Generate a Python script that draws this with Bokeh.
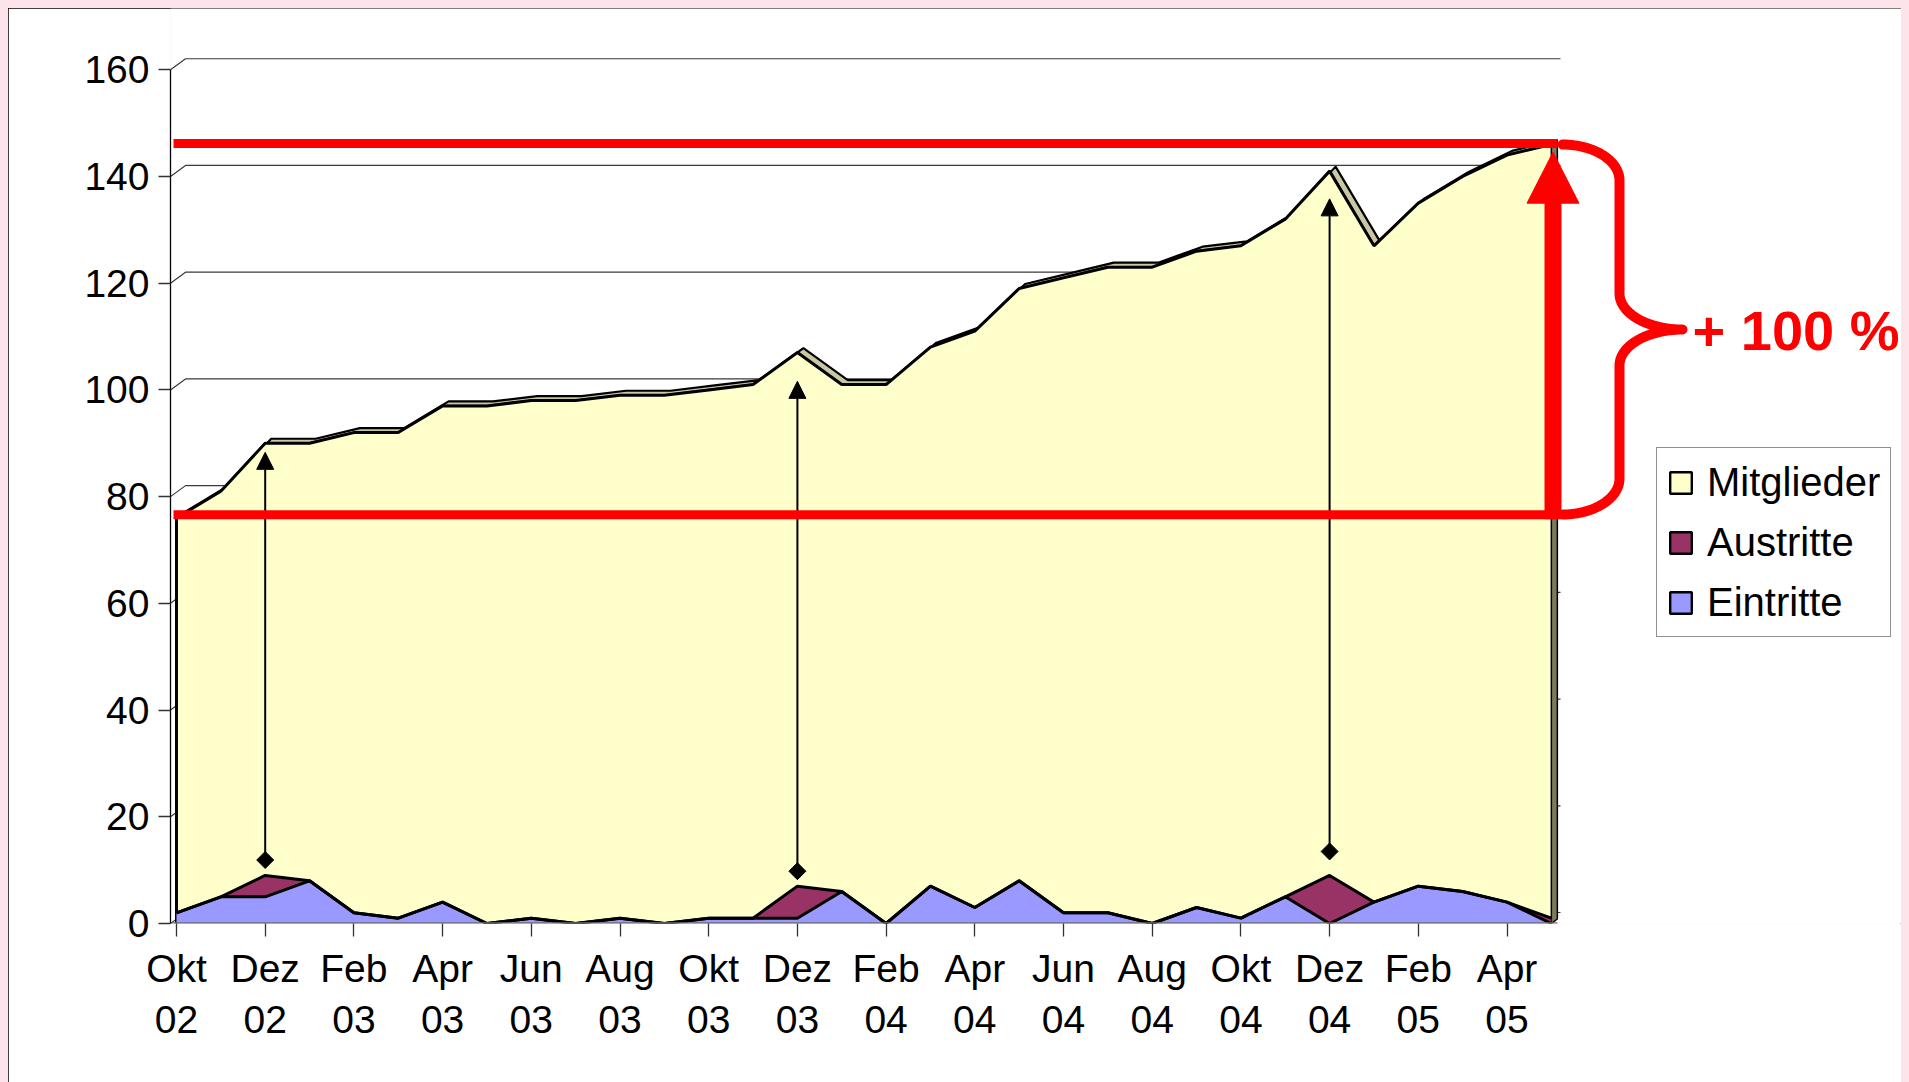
import numpy as np
from bokeh.plotting import figure
from bokeh.models import FixedTicker, Range1d, Legend, LegendItem
from bokeh.core.properties import value
from bokeh.embed import file_html
from bokeh.resources import INLINE

# ---------------- data ----------------
months = ["Okt 02", "Nov 02", "Dez 02", "Jan 03", "Feb 03", "Mrz 03", "Apr 03", "Mai 03",
          "Jun 03", "Jul 03", "Aug 03", "Sep 03", "Okt 03", "Nov 03", "Dez 03", "Jan 04",
          "Feb 04", "Mrz 04", "Apr 04", "Mai 04", "Jun 04", "Jul 04", "Aug 04", "Sep 04",
          "Okt 04", "Nov 04", "Dez 04", "Jan 05", "Feb 05", "Mrz 05", "Apr 05", "Mai 05"]
tick_months = months[::2]
tick_labels = [m.replace(" ", "\n") for m in tick_months]

mitglieder = [76, 81, 90, 90, 92, 92, 97, 97, 98, 98, 99, 99, 100, 101, 107, 101,
              101, 108, 111, 119, 121, 123, 123, 126, 127, 132, 141, 127, 135, 140, 144, 146]
austritte = [0, 0, 4, 0, 0, 0, 0, 0, 0, 0, 0, 0, 0, 0, 6, 0,
             0, 0, 0, 0, 0, 0, 0, 0, 0, 0, 9, 0, 0, 0, 0, 1]
eintritte = [2, 5, 5, 8, 2, 1, 4, 0, 1, 0, 1, 0, 1, 1, 1, 6,
             0, 7, 3, 8, 2, 2, 0, 3, 1, 5, 0, 4, 7, 6, 4, 0]
y_ticks = [0, 20, 40, 60, 80, 100, 120, 140, 160]
series_names = ["Mitglieder", "Austritte", "Eintritte"]

# annotations
arrow_months = [2, 14, 26]
arrow_base = [11.9, 9.8, 13.5]
arrow_tip = [88.3, 101.6, 135.8]
start_level = 76.6
end_level = 146.2
growth_label = "+ 100 %"

# ---------------- colours ----------------
YELLOW = "#ffffcc"
TAN = "#c9c7a6"
SIDE = "#7d7b5e"
PURPLE = "#993366"
BLUE = "#9999ff"
RED = "#ff0000"
FONT = "Liberation Sans"

# ---------------- geometry ----------------
W, H = 1893, 1074
PX_M = 44.35      # px per month
PX_U = 5.336      # px per unit
B_LEFT, B_BOTTOM = 162, 159
GAP = 6           # px between y-axis and first category
frame_w = W - B_LEFT
frame_h = H - B_BOTTOM
x0 = -GAP / PX_M
xr = Range1d(x0, x0 + frame_w / PX_M)
yr = Range1d(0, frame_h / PX_U)


def dxp(px):
    return px / PX_M


def dyp(px):
    return px / PX_U


def pg(X, Y):
    """page pixel -> data"""
    return (X - (8 + B_LEFT + GAP)) / PX_M, ((8 + frame_h) - Y) / PX_U


x = np.arange(len(months), dtype=float)
m = np.array(mitglieder, dtype=float)
e = np.array(eintritte, dtype=float)
a = np.array(austritte, dtype=float)
n = len(months) - 1

p = figure(width=W, height=H, x_range=xr, y_range=yr, output_backend="svg",
           toolbar_location=None, min_border_left=B_LEFT, min_border_right=0,
           min_border_top=0, min_border_bottom=B_BOTTOM,
           background_fill_color="white", border_fill_color="white",
           outline_line_color=None)
p.grid.visible = False
p.styles = {"outline": "1.5px solid #000", "outline-offset": "-1.5px"}

# axes
p.xaxis.ticker = FixedTicker(ticks=list(range(0, len(months), 2)))
p.xaxis.major_label_overrides = {i * 2: lab for i, lab in enumerate(tick_labels)}
p.xaxis.axis_line_color = None
p.xaxis.major_tick_out = 13
p.xaxis.major_tick_in = 0
p.xaxis.major_tick_line_color = "#333333"
p.xaxis.major_tick_line_width = 1.3
p.xaxis.minor_tick_line_color = None
p.xaxis.major_label_text_font = FONT
p.xaxis.major_label_text_font_size = "39px"
p.xaxis.major_label_text_color = "black"
p.xaxis.major_label_standoff = 10

p.yaxis.ticker = FixedTicker(ticks=y_ticks)
p.yaxis.bounds = (0, 160)
p.yaxis.axis_line_color = "black"
p.yaxis.axis_line_width = 1.3
p.yaxis.major_tick_out = 12
p.yaxis.major_tick_in = 0
p.yaxis.major_tick_line_color = "#333333"
p.yaxis.major_tick_line_width = 1.3
p.yaxis.minor_tick_line_color = None
p.yaxis.major_label_text_font = FONT
p.yaxis.major_label_text_font_size = "39px"
p.yaxis.major_label_text_color = "black"
p.yaxis.major_label_standoff = 9

# back wall gridlines (3D look)
bx, by = dxp(15), dyp(11)
x_wall = dxp(1560 - (8 + B_LEFT + GAP))
p.multi_line(xs=[[x0, x0 + bx, x_wall] for _ in y_ticks],
             ys=[[v, v + by, v + by] for v in y_ticks],
             line_color="#3a3a3a", line_width=1.2)

# Mitglieder ribbon: top face strip, front face, side face
ddx, ddy = dxp(6), dyp(4.5)
p.patch(list(x + ddx) + list(x[::-1]), list(m + ddy) + list(m[::-1]),
        fill_color=TAN, line_color="black", line_width=2.2)
p.varea(x=x, y1=np.zeros_like(m), y2=m, fill_color=YELLOW)
p.line(x, m, line_color="black", line_width=3)
p.segment(x0=[0], y0=[0], x1=[0], y1=[m[0]], line_color="black", line_width=3)
p.patch([n, n, n + ddx, n + ddx], [0, m[n], m[n] + ddy, ddy],
        fill_color=SIDE, line_color="black", line_width=1.5)

# Eintritte + Austritte (stacked)
p.varea(x=x, y1=np.zeros_like(e), y2=e, fill_color=BLUE)
p.varea(x=x, y1=e, y2=e + a, fill_color=PURPLE)
p.line(x, e, line_color="black", line_width=3)
p.line(x, e + a, line_color="black", line_width=3)

# floor / x axis line
p.segment(x0=[x0], y0=[0], x1=[n + ddx], y1=[0], line_color="#6e6e6e", line_width=2.5)

# black arrows
hw, hl = dxp(8.5), dyp(17)
am = np.array(arrow_months, dtype=float)
at = np.array(arrow_tip)
p.segment(x0=am, y0=arrow_base, x1=am, y1=at - hl, line_color="black", line_width=2)
p.patches(xs=[[xi - hw, xi + hw, xi] for xi in am],
          ys=[[t - hl, t - hl, t] for t in at],
          fill_color="black", line_color="black", line_width=1)
p.scatter(am, arrow_base, marker="square", angle=np.pi / 4, size=12,
          fill_color="black", line_color="black")

# red level lines
rx0, _ = pg(173, 0)
rx1, _ = pg(1557, 0)
p.segment(x0=[rx0, rx0], y0=[start_level, end_level], x1=[rx1, rx1],
          y1=[start_level, end_level], line_color=RED, line_width=9)

# red growth arrow
ax_, _ = pg(1552.5, 0)
_, tip_y = pg(0, 151.7)
head_len, head_hw = dyp(51), dxp(26)
p.segment(x0=[ax_], y0=[start_level - dyp(4.5)], x1=[ax_], y1=[tip_y - head_len + dyp(1)],
          line_color=RED, line_width=17)
p.patch([ax_ - head_hw, ax_ + head_hw, ax_], [tip_y - head_len, tip_y - head_len, tip_y],
        fill_color=RED, line_color=RED, line_width=1)

# red brace
t = np.linspace(0, np.pi / 2, 30)
X1, Y1 = 1562 + 57 * np.sin(t), 180 - 36 * np.cos(t)
X2, Y2 = 1682 - 63 * np.cos(t), 293 + 36 * np.sin(t)
X3, Y3 = 1682 - 63 * np.sin(t), 365 - 36 * np.cos(t)
X4, Y4 = 1562 + 57 * np.cos(t), 478 + 36 * np.sin(t)
BX = np.concatenate([X1, X2, X3, X4])
BY = np.concatenate([Y1, Y2, Y3, Y4])
bxd, byd = pg(BX, BY)
p.line(bxd, byd, line_color=RED, line_width=10, line_cap="round", line_join="round")

tx, ty = pg(1692, 330)
p.text(x=[tx], y=[ty], text=[growth_label], text_font=value(FONT), text_font_style="bold",
       text_font_size="56px", text_color=RED, text_align="left", text_baseline="middle")

# legend (proxy renderers placed outside the visible range)
off = [x0 - 50]
r_m = p.quad(left=off, right=off, top=[1], bottom=[0], fill_color=YELLOW, line_color="black", line_width=2.4)
r_a = p.quad(left=off, right=off, top=[1], bottom=[0], fill_color=PURPLE, line_color="black", line_width=2.4)
r_e = p.quad(left=off, right=off, top=[1], bottom=[0], fill_color=BLUE, line_color="black", line_width=2.4)
legend = Legend(items=[LegendItem(label=series_names[0], renderers=[r_m]),
                       LegendItem(label=series_names[1], renderers=[r_a]),
                       LegendItem(label=series_names[2], renderers=[r_e])],
                location=(1486, 286))
legend.label_text_font = FONT
legend.label_text_font_size = "40px"
legend.label_text_color = "black"
legend.label_height = 48
legend.glyph_width = 27
legend.glyph_height = 27
legend.spacing = 12
legend.padding = 10
legend.margin = 0
legend.label_standoff = 13
legend.border_line_color = "#222222"
legend.border_line_width = 1.5
legend.background_fill_color = "white"
legend.background_fill_alpha = 1.0
p.add_layout(legend)

html = file_html(p, INLINE, title="Mitglieder")
html = html.replace("</head>",
                    "<style>html{background:#fce4ea !important;overflow:hidden !important;margin:0 !important;}"
                    "body{background:#fce4ea !important;margin:8px 8px 0 8px !important;padding:0 !important;"
                    "overflow:hidden !important;}</style></head>", 1)
open("out.html", "w").write(html)
